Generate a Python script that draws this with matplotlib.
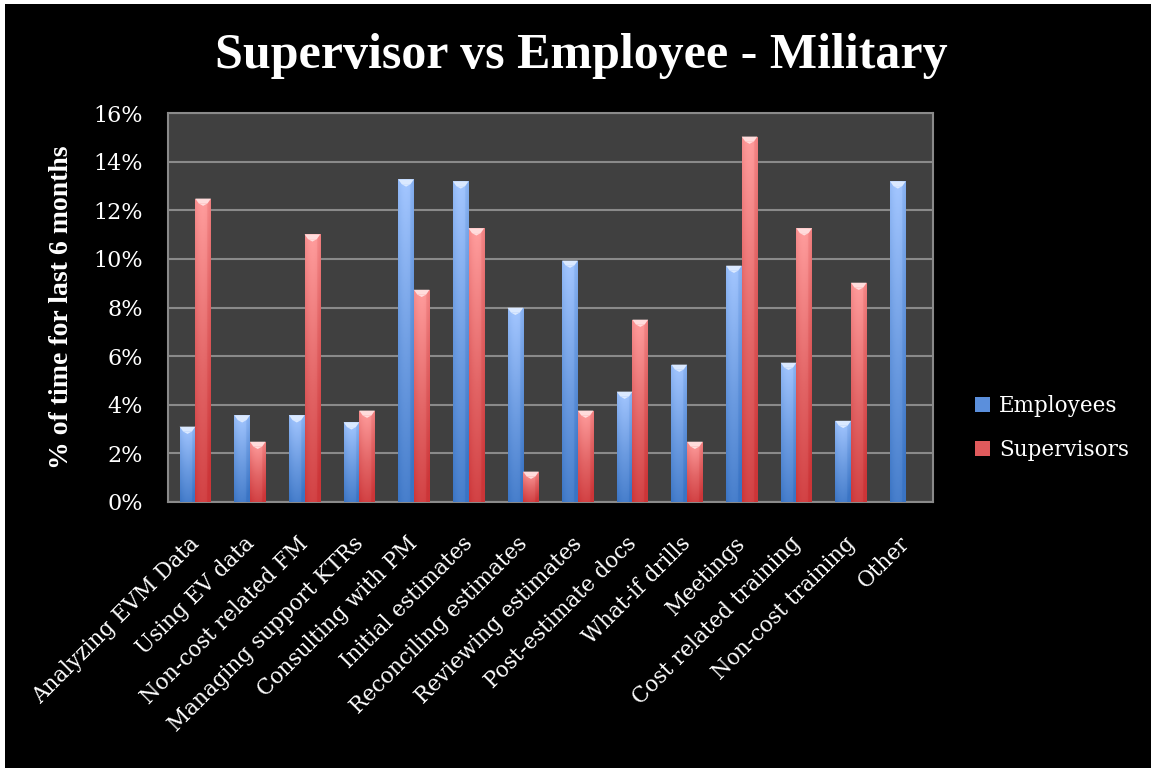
import numpy as np
import matplotlib
matplotlib.use("Agg")
import matplotlib.pyplot as plt
from matplotlib.patches import Rectangle, Polygon
from matplotlib.colors import LinearSegmentedColormap
from matplotlib.ticker import PercentFormatter
from matplotlib.transforms import ScaledTranslation

categories = ["Analyzing EVM Data", "Using EV data", "Non-cost related FM",
              "Managing support KTRs", "Consulting with PM", "Initial estimates",
              "Reconciling estimates", "Reviewing estimates", "Post-estimate docs",
              "What-if drills", "Meetings", "Cost related training",
              "Non-cost training", "Other"]
employees = [3.1, 3.57, 3.57, 3.28, 13.27, 13.19, 7.99, 9.93, 4.54, 5.65, 9.72, 5.73, 3.34, 13.19]
supervisors = [12.48, 2.48, 11.01, 3.76, 8.73, 11.26, 1.25, 3.76, 7.5, 2.48, 15.03, 11.26, 9.02, 0.0]
yticks = [0, 2, 4, 6, 8, 10, 12, 14, 16]

LIB = ["Liberation Serif", "DejaVu Serif"]
DJV = ["DejaVu Serif", "Liberation Serif"]
plt.rcParams["font.family"] = LIB

fig = plt.figure(figsize=(11.51, 7.68), dpi=100, facecolor="white")
fig.patches.append(Rectangle((5 / 1151, 0), 1, 1 - 4 / 768, transform=fig.transFigure,
                             facecolor="black", edgecolor="none", zorder=-10))

ax = fig.add_axes([168 / 1151, 1 - 502 / 768, (933 - 168) / 1151, (502 - 113) / 768])
ax.set_facecolor("#404040")

x = np.arange(len(categories))
w = 1 / 3.5
blue_cmap = LinearSegmentedColormap.from_list("b", ["#3a74c4", "#6a9ae0", "#a3c6ff"])
red_cmap = LinearSegmentedColormap.from_list("r", ["#cc3538", "#e26465", "#ff9d9d"])

def gradient_bars(xs, vals, cmap, tip_color, label, legend_color):
    bars = ax.bar(xs, vals, width=w, color=legend_color, label=label, zorder=3)
    ny, nx = 100, 30
    vy = np.linspace(0, 1, ny)[:, None]
    hx = np.linspace(-1, 1, nx)[None, :]
    img = 0.85 * vy + 0.15 * (1 - hx ** 2) - 0.12 * (hx > 0.55)
    img = np.clip(img, 0, 1)
    for b, v in zip(bars, vals):
        if v <= 0:
            continue
        x0, wd = b.get_x(), b.get_width()
        im = ax.imshow(img, cmap=cmap, origin="lower", aspect="auto",
                       extent=(x0, x0 + wd, 0, v), zorder=4, vmin=0, vmax=1)
        im.set_clip_path(b)
        h = 0.2
        ax.add_patch(Polygon([[x0, v], [x0 + wd, v], [x0 + wd * 0.78, v - h],
                              [x0 + wd * 0.22, v - h]], closed=True,
                             facecolor=tip_color, edgecolor="none", zorder=5))
        ax.add_patch(Polygon([[x0 + wd * 0.22, v - h], [x0 + wd * 0.78, v - h],
                              [x0 + wd * 0.5, v - h * 1.5]], closed=True,
                             facecolor=tip_color, edgecolor="none", zorder=5))
    return bars

gradient_bars(x - w / 2, employees, blue_cmap, "#dbe9ff", "Employees", "#5b8fdc")
gradient_bars(x + w / 2, supervisors, red_cmap, "#ffdcdc", "Supervisors", "#e05a5c")

ax.set_xlim(-0.5, len(categories) - 0.5)
ax.set_ylim(0, 16)
ax.set_yticks(yticks)
ax.yaxis.set_major_formatter(PercentFormatter(decimals=0))
ax.grid(axis="y", color="#8a8a8a", linewidth=1.5, zorder=1)
ax.set_axisbelow(True)
for s in ax.spines.values():
    s.set_color("#8a8a8a")
    s.set_linewidth(1.5)
ax.tick_params(axis="both", length=0, colors="white")
ax.tick_params(axis="y", pad=18)
for lab in ax.get_yticklabels():
    lab.set_fontfamily(DJV)
    lab.set_fontsize(16)
ax.set_xticks(x)
ax.set_xticklabels(categories, rotation=45, ha="right", va="top",
                   rotation_mode="anchor", color="white", fontsize=15.5,
                   fontfamily=DJV)
ax.tick_params(axis="x", pad=22)
off = ScaledTranslation(-7 / 100, 0, fig.dpi_scale_trans)
for lab in ax.get_xticklabels():
    lab.set_transform(lab.get_transform() + off)

ax.set_ylabel("% of time for last 6 months", color="white", fontsize=20,
              fontweight="bold", labelpad=14)
fig.text(0.505, 0.927, "Supervisor vs Employee - Military", ha="center", va="center",
         color="white", fontsize=36, fontweight="bold")

leg = ax.legend(loc="center left", bbox_to_anchor=(1.03, 0.19), frameon=False,
                labelcolor="white", handlelength=0.7, handleheight=0.7,
                handletextpad=0.4, labelspacing=1.0, prop={"family": DJV, "size": 15.5})

fig.savefig("out.png", dpi=100, facecolor="white")
